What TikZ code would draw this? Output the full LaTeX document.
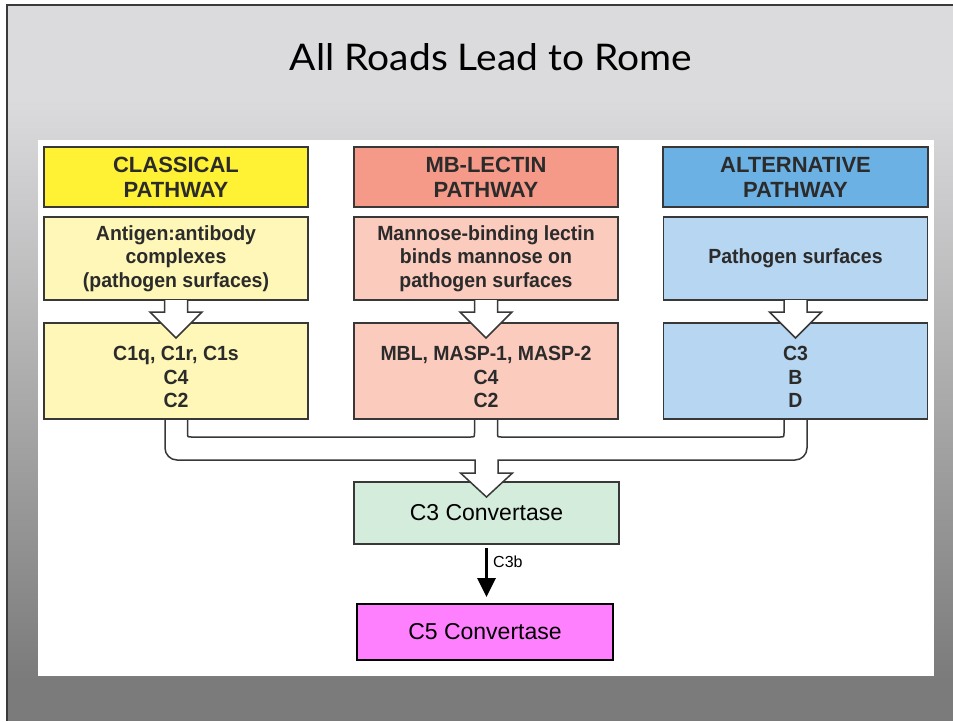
\documentclass[tikz,border=0pt]{standalone}
\usepackage{fontspec}
\setmainfont{Liberation Sans}
\newfontfamily\boxfont[FakeStretch=0.95]{Liberation Sans}
\newfontfamily\titlefont{Lato}
\usetikzlibrary{calc,arrows.meta}
\definecolor{slideTop}{HTML}{DBDBDD}
\definecolor{slideBot}{HTML}{7B7B7B}
\definecolor{frameC}{HTML}{3A3A3A}
\definecolor{hdY}{HTML}{FFF134}
\definecolor{bxY}{HTML}{FEF7B7}
\definecolor{hdP}{HTML}{F59A88}
\definecolor{bxP}{HTML}{FBCBBE}
\definecolor{hdB}{HTML}{6CB1E3}
\definecolor{bxB}{HTML}{B7D6F1}
\definecolor{bxG}{HTML}{D3ECDB}
\definecolor{bxM}{HTML}{FF80FF}
\definecolor{edgeC}{HTML}{383838}
\definecolor{txtC}{HTML}{2B2B2B}
\begin{document}
\begin{tikzpicture}[x=1pt,y=-1pt,
  hdrbox/.style={draw=edgeC, line width=1.8pt, outer sep=0pt, minimum width=264pt,
     minimum height=60pt, align=center, text=txtC,
     font=\bfseries\fontsize{22}{25}\selectfont},
  topbox/.style={draw=edgeC, line width=1.8pt, outer sep=0pt, minimum width=264pt,
     minimum height=83pt},
  lowbox/.style={draw=edgeC, line width=1.8pt, outer sep=0pt, minimum width=264pt,
     minimum height=96pt},
  boxtext/.style={align=center, text=txtC, inner sep=0pt,
     font=\boxfont\bfseries\fontsize{20.5}{23.5}\selectfont},
  fatarrow/.style={fill=white, draw=edgeC, line width=1.5pt, line join=miter},
  forkline/.style={draw=edgeC, line width=1.5pt}
]
\useasboundingbox (0,0) rectangle (953,721);
\fill[white] (0,0) rectangle (953,721);
% slide background
\fill[slideTop] (6,4) rectangle (953,100);
\shade[top color=slideTop, bottom color=slideBot] (6,100) rectangle (953,680);
\fill[slideBot] (6,680) rectangle (953,721);
\draw[frameC, line width=1.5pt] (7,721) -- (7,5) -- (953,5);
% white panel
\fill[white] (38,140) rectangle (934,676);
% title
\node[anchor=base, inner sep=0pt, font=\titlefont] (title) at (491,70)
  {\resizebox{402pt}{27pt}{All Roads Lead to Rome}};

% C3 and C5 convertase
\node[draw=edgeC, line width=1.5pt, outer sep=0pt, fill=bxG, minimum width=265pt, minimum height=62pt,
  text=black, font=\fontsize{23}{26}\selectfont] (c3) at (486.5,513) {C3 Convertase};
\node[draw=black, line width=1.2pt, outer sep=0pt, fill=bxM, minimum width=256pt, minimum height=56pt,
  text=black, font=\fontsize{23}{26}\selectfont] (c5) at (485,632) {C5 Convertase};

% column boxes
\node[topbox, fill=bxY] (l1) at (176,258.5) {};
\node[lowbox, fill=bxY] (l2) at (176,371) {};
\node[topbox, fill=bxP] (m1) at (486,258.5) {};
\node[lowbox, fill=bxP] (m2) at (486,371) {};
\node[topbox, fill=bxB] (r1) at (795.5,258.5) {};
\node[lowbox, fill=bxB] (r2) at (795.5,371) {};

% merging fork (white fat connector)
\fill[white]
  ($(l2.south)+(-11,0)$) -- ($(l2.south)+(-11,29)$)
    .. controls ($(l2.south)+(-11,35.6)$) and ($(l2.south)+(-5.6,41)$) .. ($(l2.south)+(1,41)$)
  -- ($(c3.north)+(-11.5,-22)$) -- ($(c3.north)+(-11.5,-9)$) -- ($(c3.north)+(-26,-9)$)
  -- ($(c3.north)+(0,15)$) -- ($(c3.north)+(26,-9)$) -- ($(c3.north)+(11.5,-9)$)
  -- ($(c3.north)+(11.5,-22)$) -- ($(r2.south)+(-0.5,41)$)
    .. controls ($(r2.south)+(6.1,41)$) and ($(r2.south)+(11.5,35.6)$) .. ($(r2.south)+(11.5,29)$)
  -- ($(r2.south)+(11.5,0)$) -- ($(r2.south)+(-11.5,0)$) -- ($(r2.south)+(-11.5,14)$)
    .. controls ($(r2.south)+(-11.5,18)$) .. ($(r2.south)+(-15.5,18)$)
  -- ($(m2.south)+(15.5,18)$)
    .. controls ($(m2.south)+(11.5,18)$) .. ($(m2.south)+(11.5,14)$)
  -- ($(m2.south)+(11.5,0)$) -- ($(m2.south)+(-11.5,0)$) -- ($(m2.south)+(-11.5,14)$)
    .. controls ($(m2.south)+(-11.5,18)$) .. ($(m2.south)+(-15.5,18)$)
  -- ($(l2.south)+(15.5,18)$)
    .. controls ($(l2.south)+(11.5,18)$) .. ($(l2.south)+(11.5,14)$)
  -- ($(l2.south)+(11.5,0)$) -- cycle;
\draw[forkline, line join=miter]
  ($(l2.south)+(-11,0)$) -- ($(l2.south)+(-11,29)$)
    .. controls ($(l2.south)+(-11,35.6)$) and ($(l2.south)+(-5.6,41)$) .. ($(l2.south)+(1,41)$)
  -- ($(c3.north)+(-11.5,-22)$) -- ($(c3.north)+(-11.5,-9)$) -- ($(c3.north)+(-26,-9)$)
  -- ($(c3.north)+(0,15)$) -- ($(c3.north)+(26,-9)$) -- ($(c3.north)+(11.5,-9)$)
  -- ($(c3.north)+(11.5,-22)$) -- ($(r2.south)+(-0.5,41)$)
    .. controls ($(r2.south)+(6.1,41)$) and ($(r2.south)+(11.5,35.6)$) .. ($(r2.south)+(11.5,29)$)
  -- ($(r2.south)+(11.5,0)$);
\draw[forkline]
  ($(r2.south)+(-11.5,0)$) -- ($(r2.south)+(-11.5,14)$)
    .. controls ($(r2.south)+(-11.5,18)$) .. ($(r2.south)+(-15.5,18)$)
  -- ($(m2.south)+(15.5,18)$)
    .. controls ($(m2.south)+(11.5,18)$) .. ($(m2.south)+(11.5,14)$)
  -- ($(m2.south)+(11.5,0)$);
\draw[forkline]
  ($(m2.south)+(-11.5,0)$) -- ($(m2.south)+(-11.5,14)$)
    .. controls ($(m2.south)+(-11.5,18)$) .. ($(m2.south)+(-15.5,18)$)
  -- ($(l2.south)+(15.5,18)$)
    .. controls ($(l2.south)+(11.5,18)$) .. ($(l2.south)+(11.5,14)$)
  -- ($(l2.south)+(11.5,0)$);
% redraw bottom edges of column boxes
\draw[edgeC, line width=1.8pt] (l2.south west) -- (l2.south east);
\draw[edgeC, line width=1.8pt] (m2.south west) -- (m2.south east);
\draw[edgeC, line width=1.8pt] (r2.south west) -- (r2.south east);

% headers
\node[hdrbox, fill=hdY] (lh) at (176,177) {CLASSICAL\\PATHWAY};
\node[hdrbox, fill=hdP] (mh) at (486,177) {MB-LECTIN\\PATHWAY};
\node[hdrbox, fill=hdB, minimum width=265pt] (rh) at (795.5,177) {ALTERNATIVE\\PATHWAY};

% texts
\node[boxtext] (l1t) at (l1) {Antigen:antibody\\complexes\\(pathogen surfaces)};
\node[boxtext] (m1t) at (m1) {Mannose-binding lectin\\binds mannose on\\pathogen surfaces};
\node[boxtext] (r1t) at (r1) {Pathogen surfaces};
\node[boxtext] (l2t) at ($(l2)+(0,6)$) {C1q, C1r, C1s\\C4\\C2};
\node[boxtext] (m2t) at ($(m2)+(0,6)$) {MBL, MASP-1, MASP-2\\C4\\C2};
\node[boxtext] (r2t) at ($(r2)+(0,6)$) {C3\\B\\D};

% fat arrows between boxes
\foreach \a/\b in {l1/l2, m1/m2, r1/r2}{
  \filldraw[fatarrow]
    ($(\a.south)+(-11.5,0)$) -- ($(\a.south)+(-11.5,12)$) -- ($(\a.south)+(-26,12)$)
    -- ($(\b.north)+(0,15)$) -- ($(\a.south)+(26,12)$) -- ($(\a.south)+(11.5,12)$)
    -- ($(\a.south)+(11.5,0)$);
}

% C3b arrow
\draw[black, line width=3.4pt, shorten <=4pt, shorten >=7pt,
  -{Triangle[width=18pt,length=19pt]}] (c3.south) -- (c3.south |- c5.north);
\node[anchor=west, inner sep=0pt, font=\fontsize{16}{18}\selectfont, text=black]
  (c3b) at (493,562) {C3b};
\end{tikzpicture}
\end{document}
